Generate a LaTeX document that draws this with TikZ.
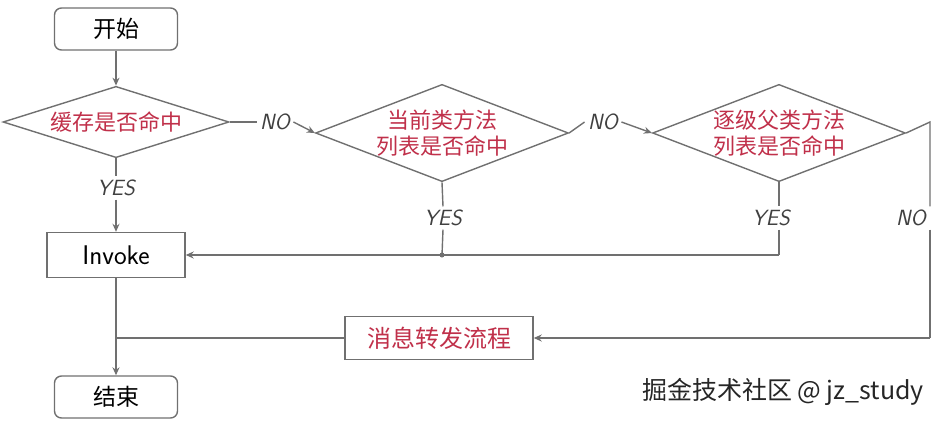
\documentclass[tikz,border=0pt]{standalone}
\usepackage{fontspec}
\newfontfamily\cjk{Noto Sans CJK SC}
\usetikzlibrary{shapes.geometric}
\usetikzlibrary{positioning}
\usetikzlibrary{arrows.meta}
\definecolor{linegray}{HTML}{707070}
\definecolor{textred}{HTML}{C0304A}

\begin{document}
\begin{tikzpicture}[x=1pt, y=-1pt]

\tikzset{
    myarrow/.style={-{Stealth[length=8pt, width=7pt]}, line width=1.4pt, linegray},
    myline/.style={line width=1.4pt, linegray},
    term/.style={draw=linegray, line width=1.4pt, rounded corners=7pt, minimum width=123pt, minimum height=42pt, font=\cjk\fontsize{23}{27}\selectfont},
    proc/.style={draw=linegray, line width=1.4pt, minimum height=45pt, font=\fontsize{27}{30}\selectfont\sffamily},
    decide/.style={draw=linegray, line width=1.4pt, diamond, aspect=2.6, inner sep=0pt, text=textred, align=center, font=\cjk\fontsize{22}{26}\selectfont},
    lbl/.style={font=\sffamily\itshape\fontsize{22}{24}\selectfont, text=black!75}
}

\useasboundingbox (0,0) rectangle (942,421);

%terminals
\node[term] (start) at (116,29) {开始};
\node[term] (stop) at (116,397) {结束};

%decisions
\node[decide, minimum width=226pt, minimum height=70pt] (cache) at (116,122) {缓存是否命中};
\node[decide, minimum width=232pt, minimum height=90pt] (cls) at (442,133) {当前类方法\\列表是否命中};
\node[decide, minimum width=248pt, minimum height=90pt] (sup) at (779,133) {逐级父类方法\\列表是否命中};

%process boxes
\node[proc, minimum width=138pt] (inv) at (116,255) {Invoke};
\node[proc, minimum width=188pt, minimum height=43pt, text=textred, font=\cjk\fontsize{24}{28}\selectfont] (fwd) at (439,338) {消息转发流程};

%labels
\node[lbl] (no1) at (275,122) {NO};
\node[lbl] (no2) at (603,122) {NO};
\node[lbl] (yes1) at (116,188) {YES};
\node[lbl] (yes2) at (443,218) {YES};
\node[lbl] (yes3) at (771,218) {YES};
\node[lbl] (no3) at (911,218) {NO};

\coordinate (j2) at (442,255);
\coordinate (j3) at (779,255);
\coordinate (rc) at (930,122);
\coordinate (rb) at (930,338);
\coordinate (lb) at (116,338);

\draw[myarrow] (start) -- (cache.north);
\draw[myline] (cache.east) -- (no1.west);
\draw[myarrow] (no1.east) -- (cls.west);
\draw[myline] (cls.east) -- (no2.west);
\draw[myarrow] (no2.east) -- (sup.west);
\draw[myline] (cache.south) -- (yes1.north);
\draw[myarrow] (yes1.south) -- (inv.north);
\draw[myline] (cls.south) -- (yes2.north);
\draw[myline] (yes2.south) -- (j2);
\fill[linegray] (j2) circle (2.5pt);
\draw[myline] (sup.south) -- (yes3.north -| sup.south);
\draw[myline] (yes3.south -| sup.south) -- (j3);
\draw[myarrow] (j3) -- (inv.east);
\draw[myline] (sup.east) -- (rc) -- (no3.north -| rc);
\draw[myline] (no3.south -| rc) -- (rb);
\draw[myarrow] (rb) -- (fwd.east);
\draw[myline] (fwd.west) -- (lb);
\draw[myarrow] (inv.south) -- (stop.north);

%watermark
\node[font=\cjk\fontsize{25}{29}\selectfont, text=black!85] (mark) at (783,392) {掘金技术社区 @ jz\_study};

\end{tikzpicture}
\end{document}
